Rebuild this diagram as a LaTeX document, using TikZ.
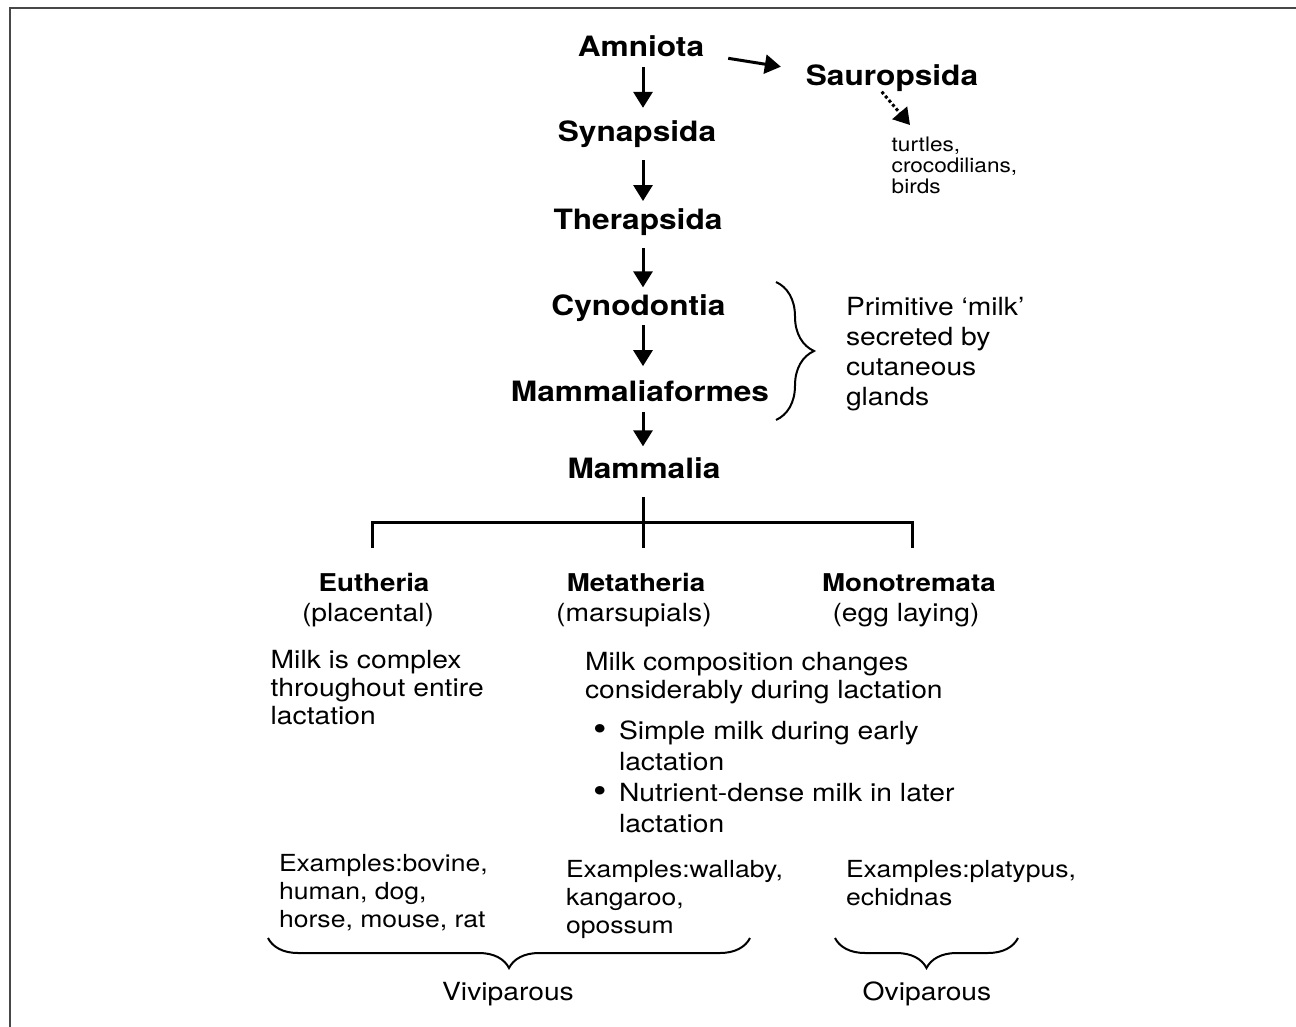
\documentclass[tikz,border=0pt]{standalone}
\usepackage{fontspec}
\setmainfont{TeX Gyre Heros}[FakeStretch=1.13]
\usetikzlibrary{arrows.meta,decorations.pathreplacing}
\newcommand{\bigbul}{\makebox[26pt][l]{\raisebox{-1.5pt}{\fontsize{34}{31}\selectfont\textbullet}}}
\begin{document}
\begin{tikzpicture}[x=1pt,y=-1pt]
\tikzset{
  lbl/.style={inner sep=0pt, outer sep=0pt},
  hd/.style={lbl, anchor=base, font=\fontsize{28}{32}\selectfont\bfseries},
  subhd/.style={lbl, anchor=base, font=\fontsize{24.5}{30}\selectfont\bfseries},
  subnote/.style={lbl, anchor=base, font=\fontsize{25}{30}\selectfont},
  blk/.style={lbl, anchor=base west},
  arr/.style={line width=3pt, -{Triangle[length=16pt,width=19pt]}},
  dotarr/.style={arr, dash pattern=on 3pt off 2.5pt},
  brc/.style={line width=2pt, decorate, decoration={brace, amplitude=#1}},
  barline/.style={line width=3pt},
  framed/.style={line width=2pt, draw=black!72}
}
\useasboundingbox (0,0) rectangle (1296,1026);
\draw[framed] (1300,7.5) -- (9.5,7.5) -- (9.5,1030);

\coordinate (col) at (643,0);

% main lineage
\node[hd] (amn) at (641,56.7) {Amniota};
\node[hd] (syn) at (637,141.7) {Synapsida};
\node[hd] (the) at (638,229.3) {Therapsida};
\node[hd] (cyn) at (638.5,315) {Cynodontia};
\node[hd] (maf) at (640,401.7) {Mammaliaformes};
\node[hd] (mam) at (644,478) {Mammalia};
\node[hd] (sau) at (892,85) {Sauropsida};

\node[blk, font=\fontsize{20}{20.8}\selectfont] (tur) at (891.7,151.7)
  {\begin{tabular}[t]{@{}l@{}}turtles,\\crocodilians,\\birds\end{tabular}};

\draw[arr, shorten <=10pt, shorten >=13pt] (amn.south -| col) -- (syn.north -| col);
\draw[arr, shorten <=12.4pt, shorten >=7.4pt] (syn.south -| col) -- (the.north -| col);
\draw[arr, shorten <=12.8pt, shorten >=6.8pt] (the.south -| col) -- (cyn.north -| col);
\draw[arr, shorten <=4.1pt, shorten >=14.7pt] (cyn.south -| col) -- (maf.north -| col);
\draw[arr, shorten <=10pt, shorten >=10.8pt] (maf.south -| col) -- (mam.north -| col);

\draw[arr] ([xshift=24pt,yshift=-1.6pt]amn.base east) -- ([xshift=-25pt,yshift=18.3pt]sau.base west);
\draw[dotarr] ([xshift=-10.3pt,yshift=-6.7pt]sau.base) -- ([xshift=18.3pt,yshift=26.7pt]tur.base west);

% primitive milk brace
\coordinate (pbt) at (776,282);
\coordinate (pbb) at (776,420);
\draw[brc=38pt] (pbt) -- (pbb);
\node[blk, font=\fontsize{25}{30}\selectfont] (prim) at (846,315)
  {\begin{tabular}[t]{@{}l@{}}Primitive ‘milk’\\secreted by\\cutaneous\\glands\end{tabular}};

% split bar
\coordinate (legL) at (372,548);
\coordinate (legM) at (643,548);
\coordinate (legR) at (912,548);
\draw[barline, shorten <=19pt] (mam.south -| legM) -- (legM);
\draw[barline] (legL) -- ++(0,-26) -| (legR);

% subclasses
\node[subhd] (eut) at (374,591.7) {Eutheria};
\node[subnote] (eutp) at (368,621.7) {(placental)};
\node[subhd] (met) at (636,591.7) {Metatheria};
\node[subnote] (metp) at (634,621.7) {(marsupials)};
\node[subhd] (mon) at (909,591.7) {Monotremata};
\node[subnote] (monp) at (906,621.7) {(egg laying)};

\node[blk, font=\fontsize{25}{28.3}\selectfont] (eutd) at (270.7,668.3)
  {\begin{tabular}[t]{@{}l@{}}Milk is complex\\throughout entire\\lactation\end{tabular}};
\node[blk, font=\fontsize{25}{28.5}\selectfont] (metd) at (585,670)
  {\begin{tabular}[t]{@{}l@{}}Milk composition changes\\considerably during lactation\end{tabular}};
\node[blk, font=\fontsize{25}{31}\selectfont] (bul) at (593,739)
  {\begin{tabular}[t]{@{}l@{}l@{}}\bigbul & Simple milk during early\\ & lactation\\
   \bigbul & Nutrient-dense milk in later\\ & lactation\end{tabular}};

% examples
\node[blk, font=\fontsize{23.5}{27.7}\selectfont] (exe) at (279,871.7)
  {\begin{tabular}[t]{@{}l@{}}Examples:bovine,\\human, dog,\\horse, mouse, rat\end{tabular}};
\node[blk, font=\fontsize{23.5}{27.7}\selectfont] (exm) at (566,877.7)
  {\begin{tabular}[t]{@{}l@{}}Examples:wallaby,\\kangaroo,\\opossum\end{tabular}};
\node[blk, font=\fontsize{23.5}{27.7}\selectfont] (exo) at (846,877.7)
  {\begin{tabular}[t]{@{}l@{}}Examples:platypus,\\echidnas\end{tabular}};

% bottom braces
\coordinate (vbL) at (268,938);
\coordinate (vbR) at (750,938);
\coordinate (obL) at (835,938);
\coordinate (obR) at (1018,938);
\draw[brc=30pt] (vbR) -- (vbL);
\draw[brc=30pt] (obR) -- (obL);
\node[subnote] (viv) at (508,1000) {Viviparous};
\node[subnote] (ovi) at (927,1000) {Oviparous};
\end{tikzpicture}
\end{document}
